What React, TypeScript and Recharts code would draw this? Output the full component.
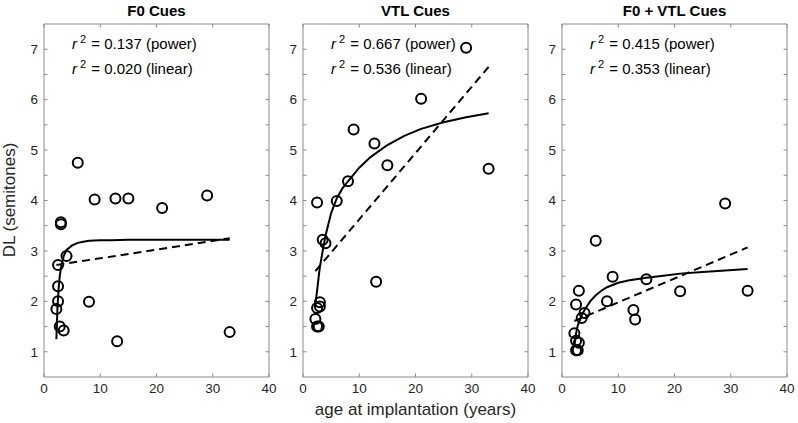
import React from "react";
import { ReferenceArea, Scatter, ScatterChart, XAxis, YAxis } from "recharts";

// ages of the 18 listeners (same in all panels)
const ages = [2.2, 2.5, 2.5, 2.5, 2.8, 3, 3, 3.5, 4, 6, 8, 9, 12.7, 13, 15, 21, 29, 33];
const f0DL = [1.85, 2.72, 2.3, 2.0, 1.5, 3.57, 3.53, 1.42, 2.9, 4.75, 1.99, 4.02, 4.04, 1.21, 4.04, 3.85, 4.1, 1.39];
const vtlDL = [1.65, 3.96, 1.87, 1.5, 1.5, 1.98, 1.9, 3.22, 3.15, 3.99, 4.38, 5.41, 5.13, 2.39, 4.7, 6.02, 7.03, 4.63];
const bothDL = [1.37, 1.94, 1.22, 1.03, 1.03, 2.21, 1.18, 1.67, 1.77, 3.2, 2.0, 2.49, 1.83, 1.64, 2.44, 2.2, 3.94, 2.21];

// power fits
const fitAges = [2.2, 2.4, 2.6, 2.8, 3, 3.5, 4, 5, 6, 7, 8, 10, 12, 15, 18, 21, 25, 29, 33];
const f0Power = [1.25, 1.9, 2.25, 2.5, 2.66, 2.9, 3.02, 3.11, 3.16, 3.18, 3.2, 3.21, 3.21, 3.22, 3.22, 3.22, 3.22, 3.22, 3.22];
const vtlPower = [1.95, 2.12, 2.3, 2.5, 2.68, 3.0, 3.3, 3.75, 4.04, 4.24, 4.38, 4.65, 4.86, 5.1, 5.28, 5.42, 5.55, 5.65, 5.73];
const bothPower = [1.1, 1.3, 1.42, 1.52, 1.58, 1.72, 1.83, 2.0, 2.12, 2.21, 2.28, 2.37, 2.42, 2.47, 2.51, 2.55, 2.58, 2.61, 2.64];

// linear fits (end points)
const linearAges = [2.2, 33];
const f0Linear = [2.72, 3.25];
const vtlLinear = [2.6, 6.65];
const bothLinear = [1.61, 3.07];

const titles = ["F0 Cues", "VTL Cues", "F0 + VTL Cues"];
const powerR2 = ["0.137", "0.667", "0.415"];
const linearR2 = ["0.020", "0.536", "0.353"];

const xTicks = [0, 10, 20, 30, 40];
const yTicks = [1, 1.5, 2, 2.5, 3, 3.5, 4, 4.5, 5, 5.5, 6, 6.5, 7];

const FONT = "'Liberation Sans', Arial, Helvetica, sans-serif";
const AXIS = "#8a8a8a";
const TEXT = "#262626";
const PLOT_W = 225;
const PLOT_H = 353;
const TICK_MARGIN = 6;
const TICK_LEN = 3.5;
const plotLefts = [44, 303, 562];

const toPoints = (xs: number[], ys: number[]) => xs.map((x, i) => ({ x, y: ys[i] }));

function XTick(props: any) {
  const { x, y, payload } = props;
  const axisY = y - TICK_MARGIN;
  return (
    <g>
      <line x1={x} x2={x} y1={axisY} y2={axisY - TICK_LEN} stroke={AXIS} />
      <line x1={x} x2={x} y1={axisY - PLOT_H} y2={axisY - PLOT_H + TICK_LEN} stroke={AXIS} />
      <text x={x} y={y} dy="0.71em" textAnchor="middle" fontSize={13.5} fill={TEXT} fontFamily={FONT}>
        {payload.value}
      </text>
    </g>
  );
}

function YTick(props: any) {
  const { x, y, payload } = props;
  const axisX = x + TICK_MARGIN;
  const v = payload.value;
  return (
    <g>
      <line x1={axisX} x2={axisX + TICK_LEN} y1={y} y2={y} stroke={AXIS} />
      <line x1={axisX + PLOT_W - TICK_LEN} x2={axisX + PLOT_W} y1={y} y2={y} stroke={AXIS} />
      {Number.isInteger(v) && (
        <text x={x} y={y} dy="0.355em" textAnchor="end" fontSize={13.5} fill={TEXT} fontFamily={FONT}>
          {v}
        </text>
      )}
    </g>
  );
}

const ring = (p: any) => (
  <circle cx={p.cx} cy={p.cy} r={5} fill="none" stroke="#000" strokeWidth={2} />
);
const noDot = () => <g />;

type PanelProps = {
  dl: number[];
  power: number[];
  linear: number[];
  left: number;
};

function Panel({ dl, power, linear, left }: PanelProps) {
  return (
    <div style={{ position: "absolute", left: left - 40, top: 0 }}>
      <ScatterChart width={279} height={423} margin={{ top: 24, right: 14, bottom: 6, left: 0 }}>
        <XAxis
          type="number"
          dataKey="x"
          domain={[0, 40]}
          ticks={xTicks}
          height={40}
          axisLine={false}
          tickLine={false}
          tickSize={0}
          tickMargin={TICK_MARGIN}
          tick={<XTick />}
          interval={0}
        />
        <YAxis
          type="number"
          dataKey="y"
          domain={[0.5, 7.5]}
          ticks={yTicks}
          width={40}
          axisLine={false}
          tickLine={false}
          tickSize={0}
          tickMargin={TICK_MARGIN}
          tick={<YTick />}
          interval={0}
        />
        <ReferenceArea x1={0} x2={40} y1={0.5} y2={7.5} fill="none" stroke={AXIS} strokeWidth={1} />
        <Scatter
          data={toPoints(linearAges, linear)}
          line={{ stroke: "#000", strokeWidth: 2, strokeDasharray: "8 5" }}
          shape={noDot}
          isAnimationActive={false}
        />
        <Scatter
          data={toPoints(fitAges, power)}
          line={{ stroke: "#000", strokeWidth: 2 }}
          shape={noDot}
          isAnimationActive={false}
        />
        <Scatter data={toPoints(ages, dl)} shape={ring} isAnimationActive={false} />
      </ScatterChart>
    </div>
  );
}

export default function App() {
  const panels = [
    { dl: f0DL, power: f0Power, linear: f0Linear },
    { dl: vtlDL, power: vtlPower, linear: vtlLinear },
    { dl: bothDL, power: bothPower, linear: bothLinear },
  ];
  return (
    <div
      style={{
        position: "absolute",
        left: 0,
        top: 0,
        width: 798,
        height: 423,
        background: "#fff",
        fontFamily: FONT,
        color: "#000",
      }}
    >
      {panels.map((p, i) => (
        <Panel key={titles[i]} {...p} left={plotLefts[i]} />
      ))}
      {titles.map((t, i) => (
        <div
          key={t}
          style={{
            position: "absolute",
            left: plotLefts[i],
            width: PLOT_W,
            top: 1,
            textAlign: "center",
            fontWeight: "bold",
            fontSize: 15,
            lineHeight: "19px",
          }}
        >
          {t}
        </div>
      ))}
      {titles.map((t, i) => (
        <div
          key={t + "-r2"}
          style={{
            position: "absolute",
            left: plotLefts[i] + 28,
            top: 29,
            fontSize: 15,
            lineHeight: "20px",
            whiteSpace: "nowrap",
          }}
        >
          <div>
            <i>r</i>
            <sup style={{ fontSize: 11, marginLeft: 3, marginRight: 1 }}>2</sup> = {powerR2[i]} (power)
          </div>
          <div>
            <i>r</i>
            <sup style={{ fontSize: 11, marginLeft: 3, marginRight: 1 }}>2</sup> = {linearR2[i]} (linear)
          </div>
        </div>
      ))}
      <div
        style={{
          position: "absolute",
          left: 10,
          top: 200,
          transform: "translate(-50%, -50%) rotate(-90deg)",
          whiteSpace: "nowrap",
          fontSize: 17,
          color: TEXT,
        }}
      >
        DL (semitones)
      </div>
      <div
        style={{
          position: "absolute",
          left: plotLefts[1] - 20,
          width: PLOT_W + 40,
          top: 400,
          textAlign: "center",
          fontSize: 17,
          lineHeight: "20px",
          color: TEXT,
        }}
      >
        age at implantation (years)
      </div>
    </div>
  );
}
